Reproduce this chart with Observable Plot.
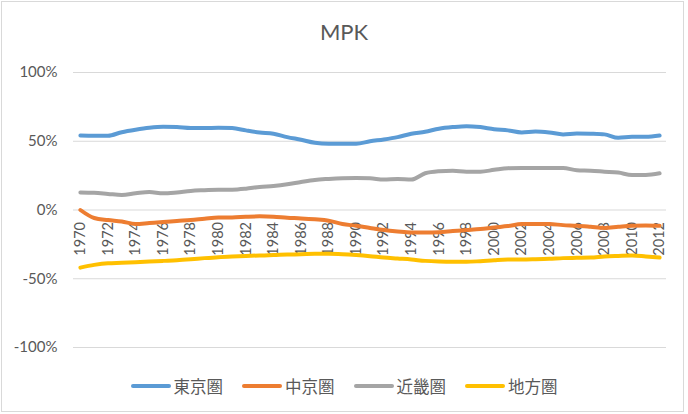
<!DOCTYPE html>
<html>
<head>
<meta charset="utf-8">
<script src="https://cdn.jsdelivr.net/npm/d3@7"></script>
<script src="https://cdn.jsdelivr.net/npm/@observablehq/plot@0.6"></script>
<style>
  html, body { margin: 0; padding: 0; background: #fff; }
  #wrap { position: relative; width: 688px; height: 414px; overflow: hidden; font-family: Lato, "Noto Sans CJK JP", sans-serif; }
  #frame { position: absolute; left: 1px; top: 1px; width: 683px; height: 411px; border: 1px solid #d9d9d9; box-sizing: border-box; }
  #title { position: absolute; left: 0; top: 18px; width: 688px; text-align: center; font-size: 22px; color: #595959; }
  #chart { position: absolute; left: 0; top: 60px; }
  #legend { position: absolute; left: 0; top: 374px; width: 688px; display: flex; justify-content: center; gap: 19px; align-items: center; }
  .item { display: flex; align-items: center; gap: 3px; font-family: "Noto Sans CJK JP", sans-serif; font-size: 16.5px; color: #595959; }
  .swatch { width: 40px; height: 4px; border-radius: 2px; }
</style>
</head>
<body>
<div id="wrap">
  <div id="frame"></div>
  <div id="title">MPK</div>
  <div id="chart"></div>
  <div id="legend"></div>
</div>
<script>
const years = d3.range(1970, 2013);
const seriesNames = ["東京圏", "中京圏", "近畿圏", "地方圏"];
const seriesColors = ["#5B9BD5", "#ED7D31", "#A5A5A5", "#FFC000"];
const yTicks = [-100, -50, 0, 50, 100];

const tokyo = [54.2,54,54,56.6,58.4,59.8,60.5,60.3,59.6,59.6,
               59.8,59.6,57.9,56.4,55.5,53,51.1,48.9,48.2,48.2,
               48.2,50,51.3,53,55.5,56.9,59.1,60.3,61,60.3,
               58.8,57.9,56.4,57.1,56.4,55,55.7,55.5,55,52.5,
               53.2,53.2,54.2];
const chukyo = [0,-5.8,-7.3,-8.3,-10.2,-9.5,-8.8,-8,-7.3,-6.3,
                -5.4,-5.4,-4.9,-4.6,-4.9,-5.6,-6.1,-6.8,-7.8,-10.2,
                -11.5,-13.1,-14.6,-15.6,-16.3,-16.3,-16.1,-15.3,-14.6,-13.9,
                -12.7,-11.7,-10.2,-10.2,-10.2,-11,-11.4,-12.2,-13.1,-12.2,
                -11.4,-11.2,-11.4];
const kinki = [12.8,12.5,11.7,10.9,12.1,13.1,12.1,12.8,13.9,14.4,
               14.8,14.8,15.5,16.8,17.5,18.7,20.4,21.9,22.6,23.1,
               23.3,23.1,22.1,22.6,22.1,26.7,28.2,28.6,27.9,27.9,
               29.2,30.4,30.6,30.6,30.6,30.6,28.9,28.6,27.9,27.2,
               25.5,25.5,26.7];
const chiho = [-41.9,-39.9,-38.7,-38.4,-38,-37.5,-37,-36.5,-35.8,-35,
               -34.3,-33.8,-33.4,-33.1,-32.8,-32.4,-32.2,-31.9,-31.9,-32.2,
               -32.8,-33.6,-34.6,-35.3,-36,-37,-37.5,-37.7,-37.7,-37.2,
               -36.5,-36,-36,-35.8,-35.5,-35,-34.8,-34.6,-33.8,-33.4,
               -33.1,-33.8,-34.6];

const seriesValues = [tokyo, chukyo, kinki, chiho];
const data = [];
seriesNames.forEach((name, i) => {
  years.forEach((yr, j) => data.push({series: name, year: yr, value: seriesValues[i][j]}));
});
const labelYears = years.filter(y => y % 2 === 0);

const chart = Plot.plot({
  width: 688,
  height: 300,
  marginTop: 12,
  marginBottom: 13,
  marginLeft: 73,
  marginRight: 22,
  style: {fontFamily: "Lato, sans-serif", color: "#595959", background: "transparent"},
  x: {domain: [1969.5, 2012.5], axis: null},
  y: {domain: [-100, 100]},
  color: {domain: seriesNames, range: seriesColors},
  marks: [
    Plot.ruleY(yTicks, {stroke: "#d9d9d9", strokeWidth: 1}),
    Plot.axisY({ticks: yTicks, tickFormat: d => d + "%", tickSize: 0, tickPadding: 16, fontSize: 15, label: null, fill: "#595959"}),
    Plot.text(labelYears, {x: d => d, y: 0, text: d => String(d), rotate: -90, textAnchor: "end", dy: 12, fontSize: 14.5, fill: "#595959"}),
    Plot.lineY(data, {x: "year", y: "value", z: "series", stroke: "series", curve: "monotone-x", strokeWidth: 4, strokeLinecap: "round", strokeLinejoin: "round"})
  ]
});
document.getElementById("chart").appendChild(chart);

const legend = document.getElementById("legend");
seriesNames.forEach((name, i) => {
  const item = document.createElement("div");
  item.className = "item";
  const sw = document.createElement("span");
  sw.className = "swatch";
  sw.style.background = seriesColors[i];
  const tx = document.createElement("span");
  tx.textContent = name;
  item.appendChild(sw);
  item.appendChild(tx);
  legend.appendChild(item);
});
</script>
</body>
</html>
